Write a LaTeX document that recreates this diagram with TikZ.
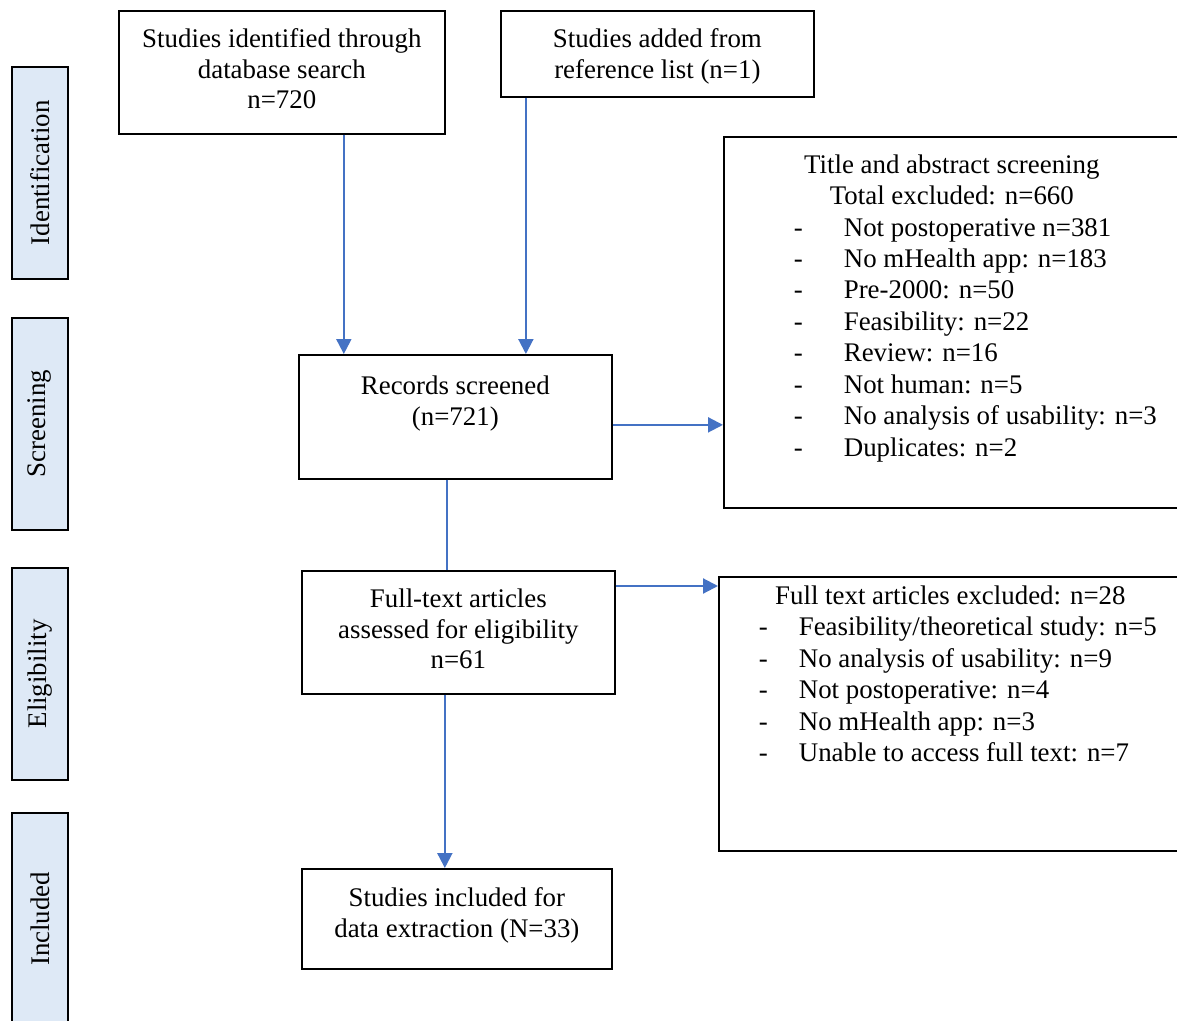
\documentclass[tikz,border=0pt]{standalone}
\usepackage{graphicx,xcolor}
\usepackage{fontspec}
\setmainfont{Liberation Serif}
\usetikzlibrary{arrows.meta,calc}
\definecolor{arrowblue}{RGB}{68,114,196}
\definecolor{stagefill}{RGB}{222,233,246}
% box content: width, height, top padding, text
\newcommand{\boxtxt}[4]{\parbox[c][#2][t]{#1}{\vspace*{#3}\centering #4}}
\tikzset{
  stagebox/.style={draw, line width=1pt, fill=stagefill, anchor=north west,
    minimum width=1.12cm, minimum height=4.24cm, inner sep=0pt},
  flowbox/.style={draw, line width=1pt, anchor=north west, inner sep=0pt},
  exclbox/.style={flowbox, font=\fontsize{15.3}{17.9}\selectfont},
  flowarrow/.style={draw=arrowblue, line width=1.2pt, -{Triangle[length=8.5pt,width=8.5pt]}, arrowblue},
  flowline/.style={draw=arrowblue, line width=1.2pt}
}
\begin{document}
\begin{tikzpicture}[x=0.02cm, y=-0.02cm, font=\fontsize{15.3}{17.5}\selectfont]
\useasboundingbox (0,0) rectangle (1177,1021);
\clip (0,0) rectangle (1177,1021);
%stages
\node[stagebox] (ident) at (11,66) {\rotatebox{90}{Identification}};
\node[stagebox] (screen) at (11,317) {\rotatebox{90}{Screening}};
\node[stagebox] (elig) at (11,567) {\rotatebox{90}{Eligibility}};
\node[stagebox] (incl) at (11,812) {\rotatebox{90}{Included}};
%boxes
\node[flowbox] (dbsearch) at (118,10) {\boxtxt{6.52cm}{2.46cm}{10pt}{Studies identified through\\ database search\\ n=720}};
\node[flowbox] (reflist) at (500,10) {\boxtxt{6.26cm}{1.72cm}{10pt}{Studies added from\\ reference list (n=1)}};
\node[flowbox] (records) at (298,354) {\boxtxt{6.26cm}{2.48cm}{12pt}{Records screened\\ (n=721)}};
\node[flowbox] (fulltext) at (301,570) {\boxtxt{6.26cm}{2.46cm}{10.2pt}{Full-text articles\\ assessed for eligibility\\ n=61}};
\node[flowbox] (included) at (301,868) {\boxtxt{6.2cm}{2.0cm}{10.6pt}{Studies included for\\ data extraction (N=33)}};
%exclusion boxes
\node[exclbox] (absexcl) at (723,136) {\boxtxt{9.12cm}{7.42cm}{10pt}{%
  {Title and abstract screening\\ Total excluded: n=660\par}\raggedright
  \hspace*{1.4cm}\makebox[1cm][l]{-}Not postoperative n=381\\
  \hspace*{1.4cm}\makebox[1cm][l]{-}No mHealth app: n=183\\
  \hspace*{1.4cm}\makebox[1cm][l]{-}Pre-2000: n=50\\
  \hspace*{1.4cm}\makebox[1cm][l]{-}Feasibility: n=22\\
  \hspace*{1.4cm}\makebox[1cm][l]{-}Review: n=16\\
  \hspace*{1.4cm}\makebox[1cm][l]{-}Not human: n=5\\
  \hspace*{1.4cm}\makebox[1cm][l]{-}No analysis of usability: n=3\\
  \hspace*{1.4cm}\makebox[1cm][l]{-}Duplicates: n=2}};
\node[exclbox] (ftexcl) at (718,576) {\boxtxt{9.26cm}{5.48cm}{5pt}{%
  {Full text articles excluded: n=28\par}\raggedright
  \hspace*{0.8cm}\makebox[0.8cm][l]{-}Feasibility/theoretical study: n=5\\
  \hspace*{0.8cm}\makebox[0.8cm][l]{-}No analysis of usability: n=9\\
  \hspace*{0.8cm}\makebox[0.8cm][l]{-}Not postoperative: n=4\\
  \hspace*{0.8cm}\makebox[0.8cm][l]{-}No mHealth app: n=3\\
  \hspace*{0.8cm}\makebox[0.8cm][l]{-}Unable to access full text: n=7}};
%arrows
\draw[flowarrow] ([xshift=1.24cm]dbsearch.south) -- ([xshift=1.24cm]dbsearch.south |- records.north);
\draw[flowarrow] ([xshift=-2.63cm]reflist.south) -- ([xshift=-2.63cm]reflist.south |- records.north);
\draw[flowarrow] ([yshift=-0.16cm]records.east) -- ([yshift=-0.16cm]records.east -| absexcl.west);
\draw[flowline] ([xshift=-0.17cm]records.south) -- ([xshift=-0.17cm]records.south |- fulltext.north);
\draw[flowarrow] ([yshift=-0.32cm]fulltext.north east) -- ([yshift=-0.32cm]fulltext.north east -| ftexcl.west);
\draw[flowarrow] ([xshift=-0.27cm]fulltext.south) -- ([xshift=-0.27cm]fulltext.south |- included.north);
\end{tikzpicture}
\end{document}
